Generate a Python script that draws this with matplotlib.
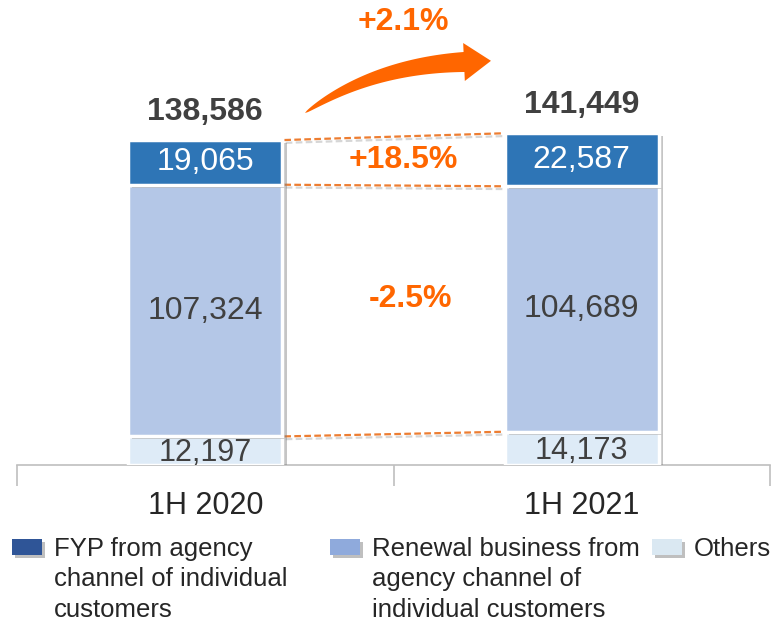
import matplotlib
matplotlib.use("Agg")
import numpy as np
import matplotlib.pyplot as plt
from matplotlib import patheffects as pe
from matplotlib.patches import Rectangle, Polygon
from matplotlib import font_manager as fm

names = {f.name for f in fm.fontManager.ttflist}
narrow = "Liberation Sans Narrow" if "Liberation Sans Narrow" in names else "Liberation Sans"
plt.rcParams['font.family'] = ["Liberation Sans", "DejaVu Sans"]

categories = ["1H 2020", "1H 2021"]
others = [12197, 14173]
renewal = [107324, 104689]
fyp = [19065, 22587]
totals = [138586, 141449]
pct_total = "+2.1%"
pct_fyp = "+18.5%"
pct_renewal = "-2.5%"
legend_labels = ["FYP from agency\nchannel of individual\ncustomers",
                 "Renewal business from\nagency channel of\nindividual customers",
                 "Others"]

c_fyp = "#2E75B6"
c_ren = "#B4C7E7"
c_oth = "#DEEBF7"
orange = "#FF6600"
dark = "#404040"

fig = plt.figure(figsize=(7.8, 6.23), dpi=100)
W, H = 780, 623
ax = fig.add_axes([17 / W, (H - 465) / H, 753 / W, 465 / H])
ax.set_xlim(-0.5, 1.5)
ax.set_ylim(0, 198300)

shadow = [pe.SimplePatchShadow(offset=(3, -2), shadow_rgbFace="#7F7F7F", alpha=0.45), pe.Normal()]
x = list(range(len(categories)))
bw = 0.41
b1 = ax.bar(x, others, bw, color=c_oth, edgecolor="white", linewidth=2.5, zorder=3)
b2 = ax.bar(x, renewal, bw, bottom=others, color=c_ren, edgecolor="white", linewidth=2.5, zorder=3)
bot3 = [a + b for a, b in zip(others, renewal)]
b3 = ax.bar(x, fyp, bw, bottom=bot3, color=c_fyp, edgecolor="white", linewidth=2.5, zorder=3)
for bars in (b1, b2, b3):
    for p in bars:
        p.set_path_effects(shadow)

for i in x:
    ax.text(i, others[i] / 2 - 1000, f"{others[i]:,}", ha="center", va="center",
            fontsize=22, color=dark, family=[narrow, "DejaVu Sans"], zorder=5)
    ax.text(i, others[i] + renewal[i] / 2, f"{renewal[i]:,}", ha="center", va="center",
            fontsize=23, color=dark, zorder=5)
    ax.text(i, bot3[i] + fyp[i] / 2, f"{fyp[i]:,}", ha="center", va="center",
            fontsize=23, color="white", zorder=5)
    ax.text(i, totals[i] + 12000, f"{totals[i]:,}", ha="center", va="center",
            fontsize=23, color=dark, fontweight="bold", zorder=5)

# dashed connectors
lshadow = [pe.SimpleLineShadow(offset=(1, -2), shadow_color="#999999", alpha=0.4), pe.Normal()]
for ya, yb in [(totals[0], totals[1]), (bot3[0], bot3[1]), (others[0], others[1])]:
    ax.plot([bw / 2 + 0.005, 1 - bw / 2 - 0.005], [ya, yb], ls=(0, (3, 1.5)), color="#ED7D31",
            lw=1.6, zorder=2, path_effects=lshadow)

ax.text(0.525, 130000, pct_fyp, ha="center", va="center", fontsize=23, color=orange, fontweight="bold")
ax.text(0.545, 71000, pct_renewal, ha="center", va="center", fontsize=23, color=orange, fontweight="bold")
fig.text(403 / W, 1 - 22 / H, pct_total, ha="center", va="center", fontsize=23, color=orange, fontweight="bold")

# curved tapered arrow (decorative), built in pixel space
P0 = np.array([305.0, 113.0]); P1 = np.array([372.0, 66.0]); P2 = np.array([464.0, 62.0])
t = np.linspace(0, 1, 60)
pts = (1 - t)[:, None] ** 2 * P0 + 2 * ((1 - t) * t)[:, None] * P1 + (t ** 2)[:, None] * P2
der = 2 * (1 - t)[:, None] * (P1 - P0) + 2 * t[:, None] * (P2 - P1)
tan = der / np.linalg.norm(der, axis=1)[:, None]
nrm = np.stack([tan[:, 1], -tan[:, 0]], axis=1)
hw = 10 * t ** 0.6
upper = pts + nrm * hw[:, None]
lower = pts - nrm * hw[:, None]
tip = P2 + tan[-1] * 27
hb1 = P2 + nrm[-1] * 19
hb2 = P2 - nrm[-1] * 19
poly = np.vstack([upper, hb1, tip, hb2, lower[::-1]])
poly_fig = np.column_stack([poly[:, 0] / W, 1 - poly[:, 1] / H])
fig.add_artist(Polygon(poly_fig, closed=True, transform=fig.transFigure, facecolor=orange,
                       edgecolor="none"))

# axis styling
for s in ("top", "left", "right"):
    ax.spines[s].set_visible(False)
ax.spines["bottom"].set_color("#BFBFBF")
ax.spines["bottom"].set_linewidth(1.2)
ax.set_yticks([])
ax.set_xticks([-0.5, 0.5, 1.5])
ax.set_xticklabels([])
ax.tick_params(axis="x", length=15, color="#BFBFBF", width=1.2, direction="out")
for i, c in enumerate(categories):
    ax.text(i, -0.088, c, transform=ax.get_xaxis_transform(), ha="center", va="center",
            fontsize=22, color="#262626", family=[narrow, "DejaVu Sans"])

# legend
leg_colors = ["#2F5597", "#8FAADC", "#DAE8F2"]
leg_x = [12, 330, 652]
for lx, lc, lt in zip(leg_x, leg_colors, legend_labels):
    r = Rectangle((lx / W, 1 - 555 / H), 30 / W, 16 / H, transform=fig.transFigure,
                  facecolor=lc, edgecolor="none")
    r.set_path_effects([pe.SimplePatchShadow(offset=(2, -2), shadow_rgbFace="#808080", alpha=0.5), pe.Normal()])
    fig.add_artist(r)
    fig.text((lx + 42) / W, 1 - 537 / H, lt, ha="left", va="top", fontsize=18.5, color="#262626",
             linespacing=1.33, family=[narrow, "DejaVu Sans"])

fig.savefig("out.png", dpi=100, facecolor="white")
